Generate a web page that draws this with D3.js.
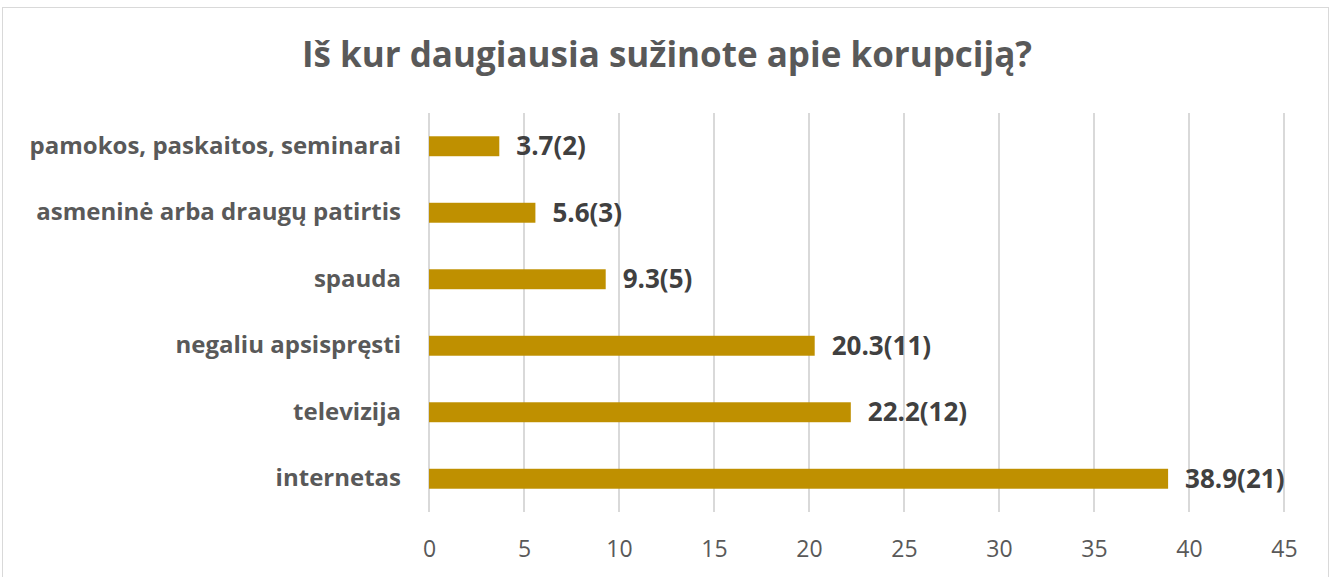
<!DOCTYPE html>
<html>
<head>
<meta charset="utf-8">
<script src="https://cdn.jsdelivr.net/npm/d3@7"></script>
<style>
  body { margin: 0; background: #fff; }
  svg { display: block; font-family: "Open Sans", sans-serif; }
</style>
</head>
<body>
<svg id="chart" width="1331" height="577"></svg>
<script>
// duomenys
var categories = ["pamokos, paskaitos, seminarai", "asmeninė arba draugų patirtis", "spauda", "negaliu apsispręsti", "televizija", "internetas"];
var percents = [3.7, 5.6, 9.3, 20.3, 22.2, 38.9];
var counts = [2, 3, 5, 11, 12, 21];
var ticks = [0, 5, 10, 15, 20, 25, 30, 35, 40, 45];

var svg = d3.select("#chart");
var W = 1331, H = 577;
var m = {left: 429, right: 47, top: 113, bottom: 65};

// remelis
svg.append("rect")
	.attr("x", 2.5).attr("y", 7.5)
	.attr("width", W - 5).attr("height", H)
	.attr("fill", "#fff").attr("stroke", "#d9d9d9");

svg.append("text")
	.attr("x", 667).attr("y", 67)
	.attr("text-anchor", "middle")
	.attr("font-size", 35).attr("font-weight", "bold")
	.attr("fill", "#595959")
	.text("Iš kur daugiausia sužinote apie korupciją?");

var x = d3.scaleLinear().domain([0, 45]).range([m.left, m.left + 855]);
var y = d3.scaleBand().domain(categories).range([m.top, H - m.bottom]).paddingInner(0.7).paddingOuter(0.35);

//tinklelis
svg.append("g").selectAll("line").data(ticks).enter().append("line")
	.attr("x1", function(d){ return x(d); }).attr("x2", function(d){ return x(d); })
	.attr("y1", m.top).attr("y2", H - m.bottom)
	.attr("stroke", "#d9d9d9").attr("stroke-width", 2);

var xAxis = svg.append("g")
	.attr("transform", "translate(0," + (H - m.bottom) + ")")
	.call(d3.axisBottom(x).tickValues(ticks).tickSize(0).tickPadding(29));
xAxis.select(".domain").remove();
xAxis.selectAll("text")
	.attr("font-family", "Open Sans, sans-serif")
	.attr("font-size", 23).attr("fill", "#595959");

var yAxis = svg.append("g")
	.attr("transform", "translate(" + (m.left - 28) + ",0)")
	.call(d3.axisLeft(y).tickSize(0).tickPadding(0));
yAxis.select(".domain").remove();
yAxis.selectAll("text")
	.attr("font-family", "Open Sans, sans-serif")
	.attr("font-size", 24).attr("font-weight", "bold").attr("fill", "#595959");

svg.append("g").selectAll("rect").data(percents).enter().append("rect")
	.attr("x", x(0))
	.attr("y", function(d, i){ return y(categories[i]); })
	.attr("width", function(d){ return x(d) - x(0); })
	.attr("height", y.bandwidth())
	.attr("fill", "#bf9000");

svg.append("g").selectAll("text").data(percents).enter().append("text")
	.attr("x", function(d){ return x(d) + 17; })
	.attr("y", function(d, i){ return y(categories[i]) + y.bandwidth() / 2 + 9; })
	.attr("font-size", 26).attr("font-weight", "bold").attr("fill", "#404040")
	.text(function(d, i){ return d + "(" + counts[i] + ")"; });
</script>
</body>
</html>
